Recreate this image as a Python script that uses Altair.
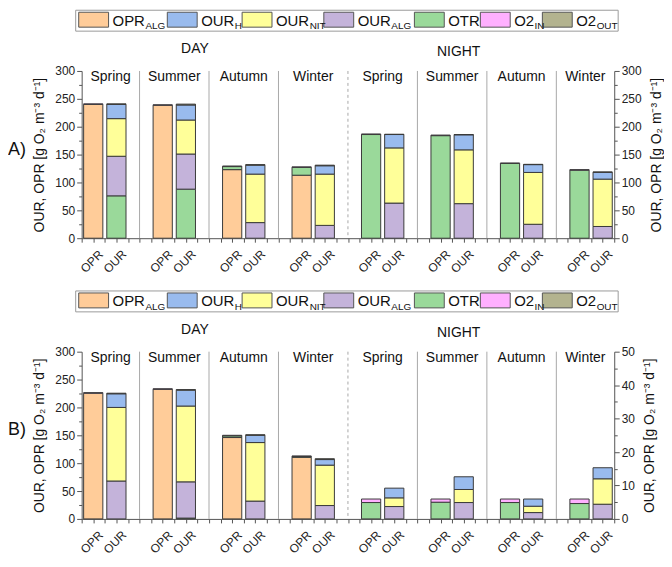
import altair as alt
import pandas as pd

# ---------------- data ----------------
SEASONS = ["Spring", "Summer", "Autumn", "Winter"]
PERIODS = ["DAY", "NIGHT"]
BARS = ["OPR", "OUR"]
COMPONENTS = ["OPR_ALG", "OUR_H", "OUR_NIT", "OUR_ALG", "OTR", "O2_IN", "O2_OUT"]
LEGEND_MAIN = ["OPR", "OUR", "OUR", "OUR", "OTR", "O2", "O2"]
LEGEND_SUB = ["ALG", "H", "NIT", "ALG", "", "IN", "OUT"]
COLORS = ["#FFCC99", "#99BBEE", "#FFFF99", "#C4B3DA", "#9AD99A", "#FFB0FF", "#B3B38F"]
Y_TITLE = "OUR, OPR [g O\u2082 m\u207b\u00b3 d\u207b\u00b9]"

# stacking order, bottom to top
OPR_STACK = ["OPR_ALG", "OTR", "O2_IN"]
OUR_STACK = ["OTR", "OUR_ALG", "OUR_NIT", "OUR_H", "O2_OUT"]

# Panel A
A_DAY_OPR = {"OPR_ALG": [240, 238.5, 123, 113], "OTR": [0, 0, 5.5, 14], "O2_IN": [1, 0.8, 1, 1]}
A_DAY_OUR = {"OTR": [76, 88, 0, 0], "OUR_ALG": [71, 63, 28, 23], "OUR_NIT": [67.5, 61, 87, 92],
             "OUR_H": [25.5, 27, 16, 15], "O2_OUT": [1, 1.5, 1, 1]}
A_NIGHT_OPR = {"OTR": [186, 184, 134, 122], "O2_IN": [1, 1, 1, 1]}
A_NIGHT_OUR = {"OUR_ALG": [63, 62, 25, 21], "OUR_NIT": [99, 96.5, 93, 85],
               "OUR_H": [24, 27, 14, 12], "O2_OUT": [0.5, 0.5, 0.5, 1]}
# Panel B
B_DAY_OPR = {"OPR_ALG": [225.5, 232.5, 146, 110.5], "OTR": [0, 0, 3, 1.5], "O2_IN": [1, 1, 1, 1]}
B_DAY_OUR = {"OTR": [0, 1.5, 0, 0], "OUR_ALG": [68, 65, 32, 24], "OUR_NIT": [132, 136, 105, 72.5],
             "OUR_H": [24.5, 28.5, 13, 10], "O2_OUT": [1, 1, 1, 1.5]}
B_NIGHT_OPR = {"OTR": [4.9, 5.0, 4.9, 4.6], "O2_IN": [1.05, 0.95, 1.05, 1.35]}
B_NIGHT_OUR = {"OUR_ALG": [3.7, 4.9, 1.9, 4.4], "OUR_NIT": [2.6, 3.9, 1.9, 7.6],
               "OUR_H": [2.9, 3.8, 2.15, 3.3]}

# ---------------- layout ----------------
W, H = 535, 168
FONT = "Arial, Liberation Sans, sans-serif"
NSLOT = 46.0  # x domain 1..47, 6 slots per season group
HALF = 0.83
CW = {"O": 0.778, "P": 0.667, "R": 0.722, "U": 0.722, "T": 0.611, "2": 0.556}
K = W / 541.0


def px2slot(px):
    return 1 + px * NSLOT / W


def build_df(day_opr, day_our, night_opr, night_our):
    rows = []
    for p, (opr, our) in enumerate([(day_opr, day_our), (night_opr, night_our)]):
        for s in range(4):
            g = 4 * p + s
            for b, (stk, order) in enumerate([(opr, OPR_STACK), (our, OUR_STACK)]):
                c = 6 * g + 2 + 2 * b
                y = 0.0
                for comp in order:
                    v = stk.get(comp, [0, 0, 0, 0])[s]
                    if v > 0:
                        rows.append(dict(period=PERIODS[p], season=SEASONS[s], bar=BARS[b],
                                         comp=comp, x0=c - HALF, x1=c + HALF, y0=y, y1=y + v))
                        y += v
    return pd.DataFrame(rows)


xscale = alt.Scale(domain=[1, 47], nice=False, zero=False)
xaxis = alt.Axis(
    values=list(range(1, 48)), labels=False,
    tickSize=4, title=None, grid=False,
    domainColor="#555555", tickColor="#555555",
)
color = alt.Color("comp:N", scale=alt.Scale(domain=COMPONENTS, range=COLORS), legend=None)


def X(f):
    return alt.X(f, type="quantitative", scale=xscale, axis=xaxis)


def yaxis(orient, top, major, minor):
    kw = dict(titleAngle=270)
    if orient == "right":
        kw["titleBaseline"] = "top"
    return alt.Axis(
        orient=orient, values=[i * minor for i in range(int(top / minor) + 1)],
        labelExpr=f"datum.value % {major} == 0 ? datum.label : ''",
        tickSize={"condition": {"test": f"datum.value % {major} != 0", "value": 3}, "value": 5},
        title=Y_TITLE, titleFontSize=14, titleFontWeight="normal", titlePadding=8,
        labelFontSize=12, labelPadding=2, grid=False,
        domainColor="#555555", tickColor="#555555", labelColor="#222222", titleColor="#111111",
        **kw,
    )


def panel(tag, dopr, dour, nopr, nour, night_top, night_major, night_minor):
    df = build_df(dopr, dour, nopr, nour)
    day = df[df.period == "DAY"]
    night = df[df.period == "NIGHT"]

    seps = pd.DataFrame({"sx": [6 * g for g in range(1, 8)]})
    seps["dash"] = seps.sx == 24
    sep_solid = alt.Chart(seps[~seps.dash]).mark_rule(color="#A8A8A8", strokeWidth=1).encode(
        x=X("sx"), y=alt.value(0), y2=alt.value(H))
    sep_dash = alt.Chart(seps[seps.dash]).mark_rule(color="#A8A8A8", strokeWidth=1, strokeDash=[3, 3]).encode(
        x=X("sx"), y=alt.value(0), y2=alt.value(H))

    bar_kw = dict(stroke="#3a3a3a", strokeWidth=1)
    day_bars = alt.Chart(day).mark_rect(**bar_kw).encode(
        x=X("x0"), x2="x1",
        y=alt.Y("y0:Q", scale=alt.Scale(domain=[0, 300], nice=False), axis=yaxis("left", 300, 50, 25)),
        y2="y1", color=color)
    night_bars = alt.Chart(night).mark_rect(**bar_kw).encode(
        x=X("x0"), x2="x1",
        y=alt.Y("y0:Q", scale=alt.Scale(domain=[0, night_top], nice=False),
                axis=yaxis("right", night_top, night_major, night_minor)),
        y2="y1", color=color)

    # rotated category labels under each bar
    bl = []
    for g in range(8):
        for b in range(2):
            bl.append(dict(lx=6 * g + 2 + 2 * b, lab=BARS[b]))
    barlabels = alt.Chart(pd.DataFrame(bl)).mark_text(
        fontSize=12, font=FONT, angle=315, align="center", baseline="middle", color="#222", dx=-2).encode(
        x=X("lx"), y=alt.value(H + 22), text="lab:N")

    sl = []
    for p in range(2):
        for s in range(4):
            g = 4 * p + s
            lo, hi = max(6 * g, 1), min(6 * g + 6, 47)
            sl.append(dict(season=SEASONS[s], cx=(lo + hi) / 2))
    seasons = alt.Chart(pd.DataFrame(sl)).mark_text(fontSize=14, font=FONT, baseline="middle", color="#111").encode(
        x=X("cx"), y=alt.value(6), text="season:N")

    heads = pd.DataFrame({"h": PERIODS, "hx": [px2slot(115 * K), px2slot(383 * K)], "hy": [-22, -19]})
    headers = alt.Chart(heads).mark_text(fontSize=14, font=FONT, baseline="middle", color="#111").encode(
        x=X("hx"), y=alt.Y("hy:Q", scale=None), text="h:N")

    # legend
    sw = [-3, 87, 163, 246, 338, 405, 468]
    leg = []
    for i, comp in enumerate(COMPONENTS):
        sx = sw[i] * K
        tx = sx + 34
        mw = sum(CW[c] for c in LEGEND_MAIN[i]) * 15
        leg.append(dict(comp=comp, sx=px2slot(sx), sx2=px2slot(sx + 30), tx=px2slot(tx),
                        ux=px2slot(tx + mw + 0.5), main=LEGEND_MAIN[i], sub=LEGEND_SUB[i]))
    legdf = pd.DataFrame(leg)
    box = alt.Chart(pd.DataFrame({"a": [px2slot(-6)], "b": [px2slot(545 * K)]})).mark_rect(
        fill="white", stroke="#9a9a9a", strokeWidth=1).encode(
        x=X("a"), x2="b", y=alt.value(-61), y2=alt.value(-40))
    swatch = alt.Chart(legdf).mark_rect(stroke="#555555", strokeWidth=1).encode(
        x=X("sx"), x2="sx2", y=alt.value(-59), y2=alt.value(-44), color=color)
    lmain = alt.Chart(legdf).mark_text(fontSize=15, font=FONT, align="left", baseline="alphabetic", color="#111").encode(
        x=X("tx"), y=alt.value(-45.5), text="main:N")
    lsub = alt.Chart(legdf).mark_text(fontSize=10, font=FONT, align="left", baseline="alphabetic", color="#111").encode(
        x=X("ux"), y=alt.value(-42), text="sub:N")

    tagc = alt.Chart(pd.DataFrame({"t": [tag]})).mark_text(
        fontSize=18, font=FONT, align="left", baseline="middle", color="#111").encode(
        x=alt.value(-74), y=alt.value(H * 0.47), text="t:N")

    return alt.layer(sep_solid, sep_dash, day_bars, night_bars, barlabels, seasons, headers,
                     box, swatch, lmain, lsub, tagc).resolve_scale(y="independent").properties(width=W, height=H)


pa = panel("A)", A_DAY_OPR, A_DAY_OUR, A_NIGHT_OPR, A_NIGHT_OUR, 300, 50, 25)
pb = panel("B)", B_DAY_OPR, B_DAY_OUR, B_NIGHT_OPR, B_NIGHT_OUR, 50, 10, 5)

chart = alt.vconcat(pa, pb, spacing=14).properties(
    padding={"left": 0, "top": 0, "right": 0, "bottom": 0}
).configure(font=FONT).configure_view(strokeWidth=0)

chart.save("out.html", embed_options={"renderer": "svg", "actions": False})
